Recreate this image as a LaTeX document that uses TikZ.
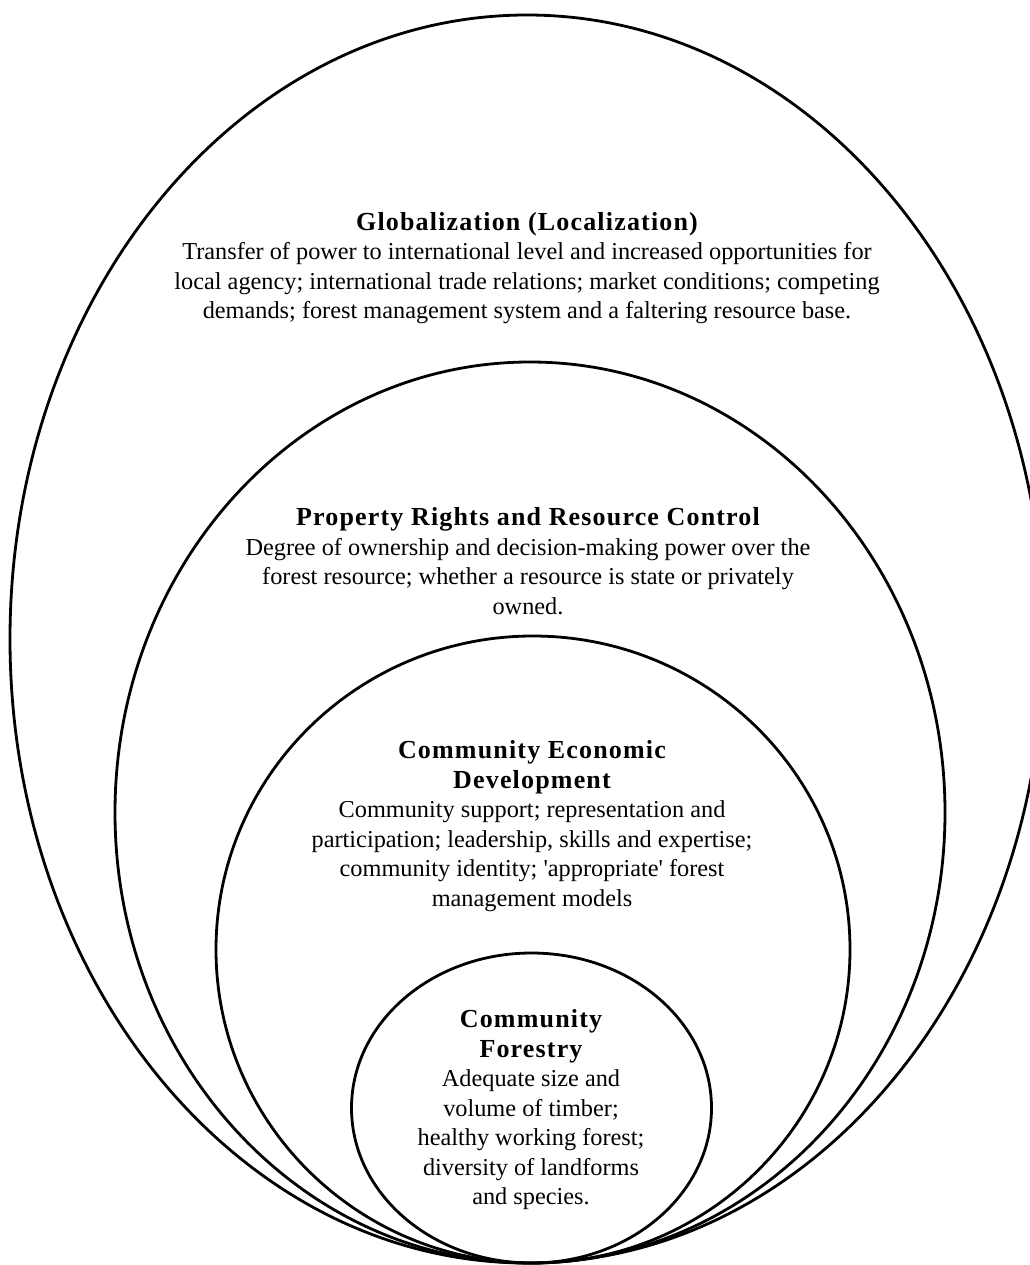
\documentclass[tikz,border=0pt]{standalone}
\usepackage{fontspec}
\setmainfont{Liberation Serif}
\newfontfamily\nomap{Liberation Serif}[Ligatures=TeXOff]
\newcommand\bodyfont{\fontsize{24.3}{29.5}\selectfont}
\newcommand\hd[1]{{\fontsize{26}{31}\selectfont\bfseries\addfontfeature{LetterSpace=4.5}#1}}
\newcommand\sq{{\nomap\symbol{39}}}
\begin{document}
\begin{tikzpicture}[x=1pt,y=-1pt,
  ring/.style={line width=2.8pt, draw=black},
  blurb/.style={align=center, inner sep=0pt, font=\bodyfont}]
\useasboundingbox (0,0) rectangle (1029,1265);
% nested rings, all touching at the bottom
\draw[ring] (527,639) ellipse [x radius=517pt, y radius=624pt];
\draw[ring] (530,812.5) ellipse [x radius=415pt, y radius=450.5pt];
\draw[ring] (533,949.5) ellipse [x radius=317pt, y radius=313.5pt];
\draw[ring] (531.5,1108) ellipse [x radius=180pt, y radius=155pt];
% texts
\node[blurb] (glob) at (527,268) {\hd{Globalization (Localization)}\\
Transfer of power to international level and increased opportunities for\\
local agency; international trade relations; market conditions; competing\\
demands; forest management system and a faltering resource base.};
\node[blurb] (prop) at (528,561) {\hd{Property Rights and Resource Control}\\
Degree of ownership and decision-making power over the\\
forest resource; whether a resource is state or privately\\
owned.};
\node[blurb] (ced) at (532,826) {\hd{Community Economic}\\
\hd{Development}\\
Community support; representation and\\
participation; leadership, skills and expertise;\\
community identity; \sq appropriate\sq{} forest\\
management models};
\node[blurb] (cf) at (531,1110) {\hd{Community}\\
\hd{Forestry}\\
Adequate size and\\
volume of timber;\\
healthy working forest;\\
diversity of landforms\\
and species.};
\end{tikzpicture}
\end{document}
